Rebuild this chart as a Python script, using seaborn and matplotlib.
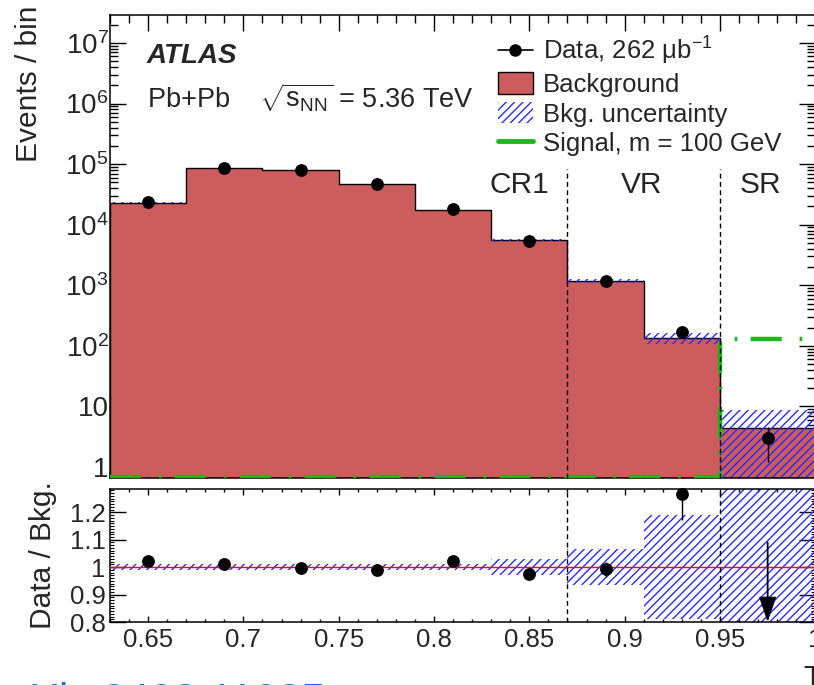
import numpy as np
import pandas as pd
import matplotlib
matplotlib.use("Agg")
import matplotlib.pyplot as plt
import seaborn as sns
from matplotlib.lines import Line2D
from matplotlib.patches import Patch
from matplotlib.ticker import FixedLocator, MultipleLocator, FuncFormatter, LogLocator, NullFormatter

# ---------------- data ----------------
bin_edges = [0.63, 0.67, 0.71, 0.75, 0.79, 0.83, 0.87, 0.91, 0.95, 1.0]
bin_centers = [0.65, 0.69, 0.73, 0.77, 0.81, 0.85, 0.89, 0.93, 0.975]
background = [23000, 86000, 80000, 47000, 17500, 5600, 1180, 135, 4.4]
bkg_rel_unc = [0.012, 0.012, 0.012, 0.012, 0.012, 0.03, 0.065, 0.19, 0.97]
data_counts = [23500, 86900, 79700, 46500, 17900, 5460, 1170, 171, 3]
data_err_lo = [150, 290, 280, 215, 134, 74, 34, 13, 1.8]
data_err_hi = [150, 290, 280, 215, 134, 74, 34, 13, 1.6]
signal = [0, 0, 0, 0, 0, 0, 0, 0, 130]
region_names = ["CR1", "VR", "SR"]
region_label_x = [0.845, 0.909, 0.971]
region_bounds = [0.87, 0.95]
offscale_arrow = [0.975, 1.09, 0.8]   # x, ratio start, ratio end (off-scale point)
x_ticks = [0.65, 0.7, 0.75, 0.8, 0.85, 0.9, 0.95, 1.0]
ratio_ticks = [0.8, 0.9, 1.0, 1.1, 1.2]
ratio_tick_labels = ["0.8", "0.9", "1", "1.1", "1.2"]

# ---------------- style ----------------
sns.set_theme(style="ticks")
plt.rcParams["font.family"] = ["Liberation Sans", "DejaVu Sans"]
plt.rcParams["mathtext.fontset"] = "custom"
plt.rcParams["mathtext.rm"] = "Liberation Sans"
plt.rcParams["mathtext.it"] = "Liberation Sans:italic"
plt.rcParams["mathtext.bf"] = "Liberation Sans:bold"
plt.rcParams["hatch.linewidth"] = 1.0
plt.rcParams["axes.linewidth"] = 1.1
plt.rcParams["axes.edgecolor"] = "black"

RED = "#cd5c5c"
BLUE = "#2a2aff"
GREEN = "#1fb51f"

W, H = 814, 685
AXW = 705.3
fig = plt.figure(figsize=(W / 100, H / 100), dpi=100)
ax1 = fig.add_axes([110 / W, 1 - 478 / H, AXW / W, (478 - 15) / H])
ax2 = fig.add_axes([110 / W, 1 - 622 / H, AXW / W, (622 - 489) / H])

ylo, yhi = 0.658, 2.9e7
sig_floor = 0.69
edges = np.array(bin_edges)
centers = np.array(bin_centers)
bkg = np.array(background)
unc = np.array(bkg_rel_unc)
dat = np.array(data_counts, dtype=float)
widths = np.diff(edges)

# ---------------- top panel ----------------
ax1.set_yscale("log")
bkg_df = pd.DataFrame({"x": bin_centers, "w": background})
sns.histplot(data=bkg_df, x="x", weights="w", bins=list(bin_edges), element="step",
             fill=True, color=RED, alpha=1, edgecolor="black", linewidth=1.0,
             ax=ax1, zorder=1)
ax1.bar(centers, 2 * unc * bkg, bottom=bkg * (1 - unc), width=widths,
        fill=False, hatch="////", edgecolor=BLUE, linewidth=0, zorder=2)
sig = np.clip(np.array(signal, dtype=float), sig_floor, None)
ax1.stairs(sig, edges, baseline=sig_floor, color=GREEN, linewidth=3.2,
           linestyle=(0, (7.0, 4.0, 0.6, 3.0)), zorder=3)
ax1.errorbar(centers, dat, yerr=[data_err_lo, data_err_hi], fmt="none",
             ecolor="black", elinewidth=1.0, zorder=4)
sns.scatterplot(x=centers, y=dat, color="black", s=85, edgecolor="black",
                linewidth=0, ax=ax1, zorder=5)
for xb in region_bounds:
    ax1.plot([xb, xb], [ylo, 8.3e4], color="black", lw=1.0,
             linestyle=(0, (3.5, 2.5)), zorder=3)
for name, xl in zip(region_names, region_label_x):
    ax1.text(xl, 4.5e4, name, ha="center", va="center", fontsize=21.5)

ax1.set_xlim(edges[0], edges[-1])
ax1.set_ylim(ylo, yhi)
ax1.yaxis.set_major_locator(FixedLocator([1, 10, 1e2, 1e3, 1e4, 1e5, 1e6, 1e7]))
ax1.yaxis.set_minor_locator(LogLocator(base=10, subs=np.arange(2, 10), numticks=20))
ax1.yaxis.set_minor_formatter(NullFormatter())


def logfmt(v, pos):
    e = int(round(np.log10(v)))
    if e == 0:
        return "1"
    if e == 1:
        return "10"
    return r"$10^{%d}$" % e


ax1.yaxis.set_major_formatter(FuncFormatter(logfmt))
ax1.xaxis.set_major_locator(FixedLocator(x_ticks))
ax1.xaxis.set_minor_locator(MultipleLocator(0.01))
ax1.tick_params(axis="x", labelbottom=False)
ax1.tick_params(which="both", direction="in", top=True, right=True, color="black")
ax1.tick_params(which="major", length=11.5, width=1.0)
ax1.tick_params(which="minor", length=5.8, width=1.0)
ax1.tick_params(axis="y", labelsize=20, pad=1)
ax1.set_xlabel("")
ax1.set_ylabel("Events / bin", fontsize=21.5, loc="top")
ax1.yaxis.set_label_coords(-0.095, 1.02)

ax1.text(37 / AXW, 1 - (63 - 15) / 463, "ATLAS", transform=ax1.transAxes,
         fontsize=20, fontweight="bold", fontstyle="italic", va="baseline")
ax1.text(37 / AXW, 1 - (108 - 15) / 463,
         r"Pb+Pb    $\sqrt{\mathrm{s}_{\mathrm{NN}}}$ = 5.36 TeV", transform=ax1.transAxes,
         fontsize=19.5, va="baseline")

handles = [
    Line2D([], [], color="black", marker="o", markersize=8, lw=1.2),
    Patch(facecolor=RED, edgecolor="black", linewidth=1.0),
    Patch(facecolor="none", edgecolor=BLUE, hatch="////", linewidth=0),
    Line2D([], [], color=GREEN, lw=3.5),
]
labels = [r"Data, 262 μb$^{\mathrm{-1}}$", "Background", "Bkg. uncertainty",
          "Signal, m = 100 GeV"]
ax1.legend(handles, labels, loc="upper left", bbox_to_anchor=(498 / W, 1 - 35 / H),
           bbox_transform=fig.transFigure, frameon=False, fontsize=18.5,
           handlelength=1.35, handleheight=0.9, handletextpad=0.4,
           labelspacing=0.2, borderpad=0, borderaxespad=0)

# ---------------- ratio panel ----------------
ratio = dat / bkg
ratio_err_lo = np.array(data_err_lo) / bkg
ratio_err_hi = np.array(data_err_hi) / bkg
ax2.bar(centers, 2 * unc, bottom=1 - unc, width=widths, fill=False,
        hatch="////", edgecolor=BLUE, linewidth=0, zorder=2)
ax2.axhline(1.0, color="red", lw=1.0, zorder=3)
inrange = ratio >= ratio_ticks[0]
ax2.errorbar(centers[inrange], ratio[inrange],
             yerr=[ratio_err_lo[inrange], ratio_err_hi[inrange]], fmt="none",
             ecolor="black", elinewidth=1.0, zorder=4)
sns.scatterplot(x=centers[inrange], y=ratio[inrange], color="black", s=85,
                linewidth=0, ax=ax2, zorder=5, clip_on=False)
ax2.annotate("", xy=(offscale_arrow[0], offscale_arrow[2]),
             xytext=(offscale_arrow[0], offscale_arrow[1]),
             arrowprops=dict(arrowstyle="-|>,head_width=0.45,head_length=1.3",
                             color="black", lw=1.3, shrinkA=0, shrinkB=0), zorder=6)
for xb in region_bounds:
    ax2.axvline(xb, color="black", lw=1.0, linestyle=(0, (3.5, 2.5)), zorder=3)

ax2.set_xlim(edges[0], edges[-1])
ax2.set_ylim(0.8, 1.285)
ax2.xaxis.set_major_locator(FixedLocator(x_ticks))
ax2.xaxis.set_minor_locator(MultipleLocator(0.01))
ax2.xaxis.set_major_formatter(FuncFormatter(lambda v, p: f"{v:g}"))
ax2.yaxis.set_major_locator(FixedLocator(ratio_ticks))
ax2.yaxis.set_major_formatter(FuncFormatter(
    lambda v, p: ratio_tick_labels[int(round((v - 0.8) / 0.1))]))
ax2.yaxis.set_minor_locator(MultipleLocator(0.01))
ax2.tick_params(which="both", direction="in", top=True, right=True, color="black")
ax2.tick_params(axis="x", which="major", length=4.3, width=1.0, labelsize=18.5, pad=4)
ax2.tick_params(axis="x", which="minor", length=2.2, width=1.0)
ax2.tick_params(axis="y", which="major", length=11.5, width=1.0, labelsize=18.5, pad=3)
ax2.tick_params(axis="y", which="minor", length=3.0, width=0.8)
ax2.set_xlabel("")
ax2.set_ylabel("Data / Bkg.", fontsize=21.5)
ax2.yaxis.set_label_coords(-0.075, 0.5)

fig.text(803 / W, 1 - 688 / H, "T", fontsize=22, ha="left", va="baseline")
fig.text(-8 / W, 1 - 713 / H, "arXiv:2408.11035", fontsize=31, color="#1a6fd8",
         ha="left", va="baseline")

fig.savefig("out.png", dpi=100)
